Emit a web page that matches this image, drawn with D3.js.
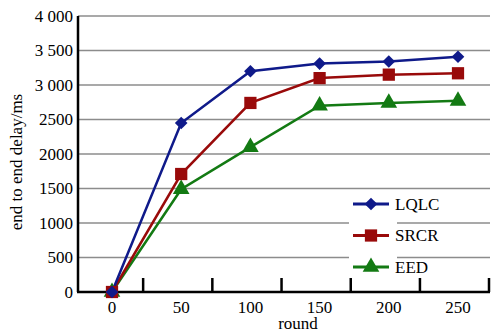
<!DOCTYPE html>
<html>
<head>
<meta charset="utf-8">
<script src="https://cdn.jsdelivr.net/npm/d3@7"></script>
<style>
  body { margin: 0; background: #fff; font-family: "Liberation Serif", serif; }
  svg text { font-family: "Liberation Serif", serif !important; }
</style>
</head>
<body>
<div id="chart"></div>
<script>
// Data
const rounds = [0, 50, 100, 150, 200, 250];
const lqlc = [0, 2450, 3200, 3310, 3340, 3410];
const srcr = [0, 1710, 2740, 3100, 3150, 3170];
const eed = [0, 1490, 2100, 2700, 2740, 2770];
const yTicks = [0, 500, 1000, 1500, 2000, 2500, 3000, 3500, 4000];
const yTickLabels = ["0", "500", "1000", "1500", "2000", "2500", "3 000", "3 500", "4 000"];

const series = [
  { name: "LQLC", values: lqlc, color: "#0f1a8a", shape: "diamond" },
  { name: "SRCR", values: srcr, color: "#990a0a", shape: "square" },
  { name: "EED", values: eed, color: "#137a13", shape: "triangle" }
];

const width = 491, height = 334;
const plotLeft = 78, plotRight = 490, plotTop = 16, plotBottom = 292;
const FONT = "Liberation Serif";

const svg = d3.select("#chart").append("svg")
  .attr("width", width)
  .attr("height", height);

// Category index -> x position
const x = d3.scaleLinear().domain([0, 5]).range([112, 458]);
const y = d3.scaleLinear().domain([0, 4000]).range([plotBottom, plotTop]);

// Gridlines
svg.append("g")
  .selectAll("line")
  .data(yTicks.filter(d => d > 0))
  .enter()
  .append("line")
  .attr("x1", plotLeft)
  .attr("x2", plotRight)
  .attr("y1", d => y(d))
  .attr("y2", d => y(d))
  .attr("stroke", "#8c8c8c")
  .attr("stroke-width", 1.5);

// Y tick labels
svg.append("g")
  .selectAll("text")
  .data(yTicks)
  .enter()
  .append("text")
  .attr("x", plotLeft - 5)
  .attr("y", d => y(d))
  .attr("dy", "0.35em")
  .attr("text-anchor", "end")
  .style("font-family", FONT)
  .style("font-size", "17px")
  .text((d, i) => yTickLabels[i]);

// X tick labels
svg.append("g")
  .selectAll("text")
  .data(rounds)
  .enter()
  .append("text")
  .attr("x", (d, i) => x(i))
  .attr("y", 313)
  .attr("text-anchor", "middle")
  .style("font-family", FONT)
  .style("font-size", "17px")
  .text(d => d);

// X ticks between categories
svg.append("g")
  .selectAll("line")
  .data(d3.range(6))
  .enter()
  .append("line")
  .attr("x1", d => Math.min(x(d + 0.45), plotRight - 1))
  .attr("x2", d => Math.min(x(d + 0.45), plotRight - 1))
  .attr("y1", plotBottom)
  .attr("y2", plotBottom - 14)
  .attr("stroke", "#000")
  .attr("stroke-width", 2.5);

// Axes lines
svg.append("line")
  .attr("x1", plotLeft).attr("x2", plotLeft)
  .attr("y1", plotTop).attr("y2", plotBottom)
  .attr("stroke", "#000").attr("stroke-width", 2.5);
svg.append("line")
  .attr("x1", plotLeft - 1).attr("x2", plotRight)
  .attr("y1", plotBottom).attr("y2", plotBottom)
  .attr("stroke", "#000").attr("stroke-width", 2.5);

// Axis titles
svg.append("text")
  .attr("transform", "translate(22," + ((plotTop + plotBottom) / 2 + 8) + ") rotate(-90)")
  .attr("text-anchor", "middle")
  .style("font-family", FONT)
  .style("font-size", "17px")
  .text("end to end delay/ms");
svg.append("text")
  .attr("x", 298)
  .attr("y", 329)
  .attr("text-anchor", "middle")
  .style("font-family", FONT)
  .style("font-size", "17px")
  .text("round");

const symbols = {
  diamond: d3.symbol().type(d3.symbolSquare).size(80),
  square: d3.symbol().type(d3.symbolSquare).size(150),
  triangle: d3.symbol().type(d3.symbolTriangle).size(120)
};
const rot = shape => shape === "diamond" ? " rotate(45)" : "";

const line = d3.line()
  .x((d, i) => x(i))
  .y(d => y(d));

// Draw series back to front
series.slice().reverse().forEach(s => {
  svg.append("path")
    .datum(s.values)
    .attr("d", line)
    .attr("fill", "none")
    .attr("stroke", s.color)
    .attr("stroke-width", 2.5);
});
series.slice().reverse().forEach(s => {
  svg.append("g")
    .selectAll("path")
    .data(s.values)
    .enter()
    .append("path")
    .attr("d", symbols[s.shape])
    .attr("transform", (d, i) => "translate(" + x(i) + "," + y(d) + ")" + rot(s.shape))
    .attr("fill", s.color);
});

// Legend
const legend = svg.append("g");
legend.append("rect")
  .attr("x", 349).attr("y", 196)
  .attr("width", 48).attr("height", 80)
  .attr("fill", "#fff");
series.forEach((s, i) => {
  const ly = 204 + i * 31.5;
  legend.append("line")
    .attr("x1", 353).attr("x2", 389)
    .attr("y1", ly).attr("y2", ly)
    .attr("stroke", s.color)
    .attr("stroke-width", 3);
  legend.append("path")
    .attr("d", symbols[s.shape])
    .attr("transform", "translate(371," + ly + ")" + rot(s.shape))
    .attr("fill", s.color);
  legend.append("text")
    .attr("x", 395)
    .attr("y", ly)
    .attr("dy", "0.35em")
    .style("font-family", FONT)
    .style("font-size", "17px")
    .text(s.name);
});
</script>
</body>
</html>
